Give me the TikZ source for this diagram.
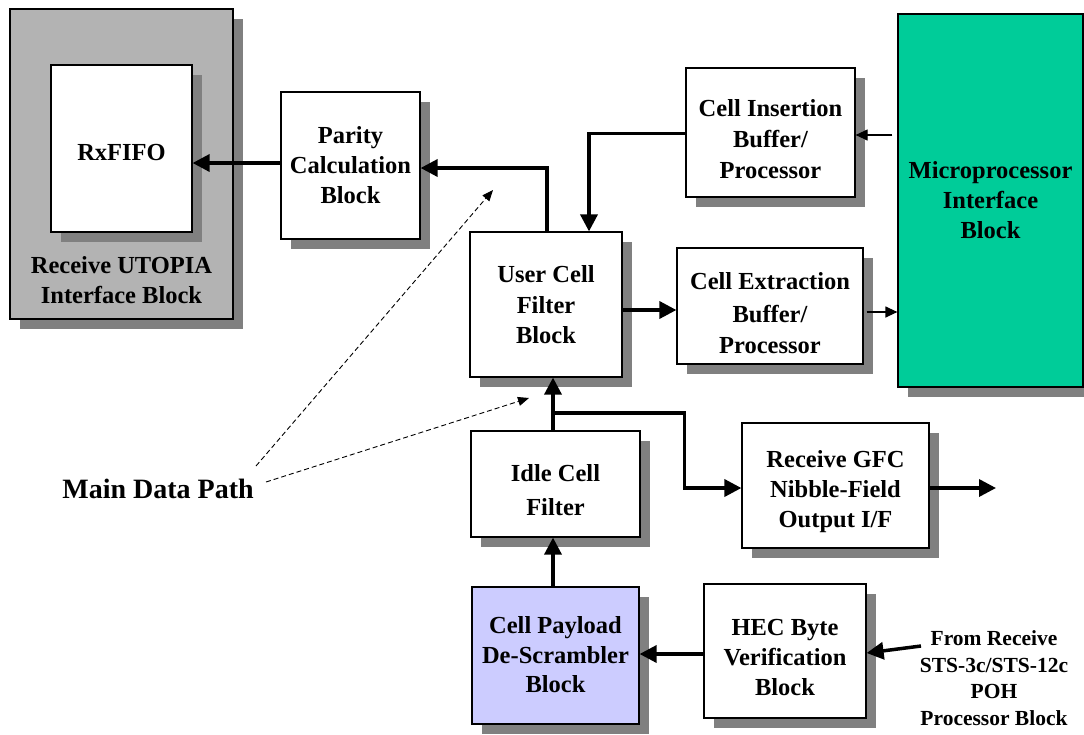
\documentclass[tikz,border=0pt]{standalone}
\usepackage{fontspec}
\setmainfont{Liberation Serif}
\usetikzlibrary{arrows.meta,shadows,calc}
\definecolor{shade}{RGB}{128,128,128}
\definecolor{utgray}{RGB}{179,179,179}
\definecolor{micgreen}{RGB}{0,204,153}
\definecolor{lavender}{RGB}{204,204,255}
\newcommand{\lowertext}[2]{\raisebox{-#1}[\height][\depth]{\begin{tabular}{@{}c@{}}#2\end{tabular}}}
\tikzset{
  x=1pt,y=-1pt,
  blk/.style={draw=black,line width=1.2pt,fill=white,rectangle,inner sep=0pt,
    align=center,font=\fontsize{24.5}{30}\selectfont\bfseries,
    general shadow={fill=shade,shadow xshift=10pt,shadow yshift=-10pt}},
  fat/.style={line width=3.5pt,-{Triangle[length=17pt,width=17pt]}},
  slim/.style={line width=1.2pt,-{Triangle[length=12pt,width=11pt]}},
  dashline/.style={line width=0.9pt,dash pattern=on 5pt off 3pt,-{Triangle[length=11pt,width=9pt]}},
}
\begin{document}
\begin{tikzpicture}
\useasboundingbox (0,0) rectangle (1084,734);
% blocks
\node[blk,fill=utgray,minimum width=223pt,minimum height=310pt] (utopia) at (121.5,164) {};
\node[font=\fontsize{24.5}{30}\selectfont\bfseries,align=center] (utxt) at (121.5,280) {Receive UTOPIA\\Interface Block};
\node[blk,minimum width=141pt,minimum height=167pt] (rxfifo) at (121.5,148.5) {\lowertext{6pt}{RxFIFO}};
\node[blk,minimum width=139pt,minimum height=147pt] (parity) at (350.5,165.5) {\lowertext{2pt}{Parity\\[0pt]Calculation\\[0pt]Block}};
\node[blk,minimum width=152pt,minimum height=145pt] (user) at (546,304.5) {\lowertext{2pt}{User Cell\\[1pt]Filter\\[0pt]Block}};
\node[blk,minimum width=169pt,minimum height=129pt] (ins) at (770.5,132.5) {\lowertext{9pt}{Cell Insertion\\[1pt]Buffer/\\[1pt]Processor}};
\node[blk,minimum width=186pt,minimum height=116pt] (ext) at (770,306) {\lowertext{9pt}{Cell Extraction\\[3pt]Buffer/\\[1pt]Processor}};
\node[blk,fill=micgreen,minimum width=185pt,minimum height=373pt] (micro) at (990.5,200.5) {\lowertext{2pt}{Microprocessor\\[0pt]Interface\\[0pt]Block}};
\node[blk,minimum width=169pt,minimum height=106pt] (idle) at (555.5,484) {\lowertext{8pt}{Idle Cell\\[4pt]Filter}};
\node[blk,minimum width=187pt,minimum height=125pt] (gfc) at (835.5,485.5) {\lowertext{6pt}{Receive GFC\\[0pt]Nibble-Field\\[0pt]Output I/F}};
\node[blk,fill=lavender,minimum width=167pt,minimum height=137pt] (payload) at (555.5,655.5) {\lowertext{1pt}{Cell Payload\\[0pt]De-Scrambler\\[-1pt]Block}};
\node[blk,minimum width=162pt,minimum height=134pt] (hec) at (785,651) {\lowertext{8pt}{HEC Byte\\[0pt]Verification\\[0pt]Block}};
% labels
\node[font=\fontsize{28}{32}\selectfont\bfseries] (mdp) at (158,489) {Main Data Path};
\node[font=\fontsize{21.5}{26.5}\selectfont\bfseries,align=center] (from) at (994,678) {From Receive\\STS-3c/STS-12c\\POH\\Processor Block};
% coordinates
\coordinate (br) at (553,413);
\coordinate (out) at (996,488);
\coordinate (fs) at (921,646);
\coordinate (d1s) at (256,466);
\coordinate (d1e) at (493,190);
\coordinate (d2s) at (266,482);
\coordinate (d2e) at (529,398);
\coordinate (pw) at ($(parity.west)+(0,-2.5)$);
\coordinate (pe) at ($(parity.east)+(0,2.5)$);
\coordinate (iw) at ($(ins.west)+(0,1)$);
\coordinate (ie) at ($(ins.east)+(0,2.5)$);
\coordinate (ew) at ($(ext.west)+(0,4)$);
\coordinate (ee) at ($(ext.east)+(0,6)$);
\coordinate (gw) at ($(gfc.west)+(0,2.5)$);
\coordinate (ge) at ($(gfc.east)+(0,2.5)$);
\coordinate (hw) at ($(hec.west)+(0,3)$);
\coordinate (he) at ($(hec.east)+(0,2)$);
% connectors
\draw[fat] (pw) -- (rxfifo.east |- pw);
\draw[fat] ($(user.north)+(1,0)$) |- (pe);
\draw[fat] (iw) -| ($(user.north)+(43,0)$);
\draw[slim] ($(micro.west |- ie)+(-5,0)$) -- (ie);
\draw[fat] (user.east |- ew) -- (ew);
\draw[slim] ($(ee)+(3,0)$) -- (micro.west |- ee);
\draw[fat] (br |- idle.north) -- (br |- user.south);
\draw[fat] (br) -| ($(gw)+(-57,0)$) -- (gw);
\draw[fat] (ge) -- (out);
\draw[fat] (br |- payload.north) -- (br |- idle.south);
\draw[fat] (hw) -- (payload.east |- hw);
\draw[fat] (fs) -- (he);
\draw[dashline] (d1s) -- (d1e);
\draw[dashline] (d2s) -- (d2e);
\end{tikzpicture}
\end{document}
